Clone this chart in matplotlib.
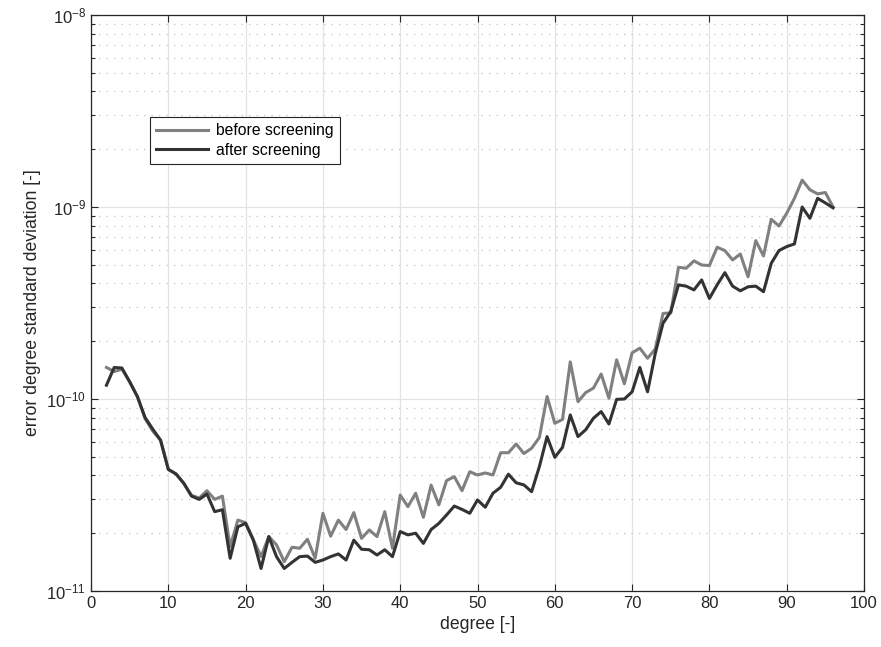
import matplotlib
matplotlib.use("Agg")
import matplotlib.pyplot as plt
from matplotlib.ticker import LogLocator, MultipleLocator, NullFormatter

plt.rcParams["font.family"] = ["Liberation Sans", "DejaVu Sans"]
plt.rcParams["mathtext.fontset"] = "custom"
plt.rcParams["mathtext.rm"] = "Liberation Sans"
plt.rcParams["mathtext.it"] = "Liberation Sans"

degrees = list(range(2, 97))

# error degree standard deviation before screening
before_screening = [
    1.46e-10, 1.39e-10, 1.43e-10, 1.23e-10, 1.03e-10, 7.9e-11, 6.8e-11, 6.1e-11, 4.3e-11,
    4.07e-11, 3.64e-11, 3.15e-11, 3.05e-11, 3.33e-11, 3.0e-11, 3.12e-11, 1.7e-11, 2.34e-11,
    2.27e-11, 1.85e-11, 1.51e-11, 1.92e-11, 1.74e-11, 1.42e-11, 1.69e-11, 1.67e-11, 1.86e-11,
    1.48e-11, 2.54e-11, 1.93e-11, 2.34e-11, 2.09e-11, 2.56e-11, 1.88e-11, 2.08e-11, 1.92e-11,
    2.59e-11, 1.67e-11, 3.16e-11, 2.75e-11, 3.23e-11, 2.42e-11, 3.56e-11, 2.81e-11, 3.76e-11,
    3.94e-11, 3.33e-11, 4.18e-11, 4.02e-11, 4.12e-11, 4.02e-11, 5.25e-11, 5.25e-11, 5.83e-11,
    5.2e-11, 5.54e-11, 6.3e-11, 1.03e-10, 7.47e-11, 7.83e-11, 1.56e-10, 9.68e-11, 1.08e-10,
    1.14e-10, 1.35e-10, 1.01e-10, 1.6e-10, 1.2e-10, 1.74e-10, 1.84e-10, 1.63e-10, 1.82e-10,
    2.79e-10, 2.81e-10, 4.85e-10, 4.8e-10, 5.24e-10, 4.99e-10, 4.95e-10, 6.17e-10, 5.93e-10,
    5.3e-10, 5.69e-10, 4.33e-10, 6.68e-10, 5.56e-10, 8.63e-10, 7.96e-10, 9.27e-10, 1.11e-9,
    1.38e-9, 1.23e-9, 1.17e-9, 1.19e-9, 1.0e-9,
]

# error degree standard deviation after screening
after_screening = [
    1.18e-10, 1.46e-10, 1.45e-10, 1.23e-10, 1.03e-10, 8.0e-11, 6.96e-11, 6.1e-11, 4.3e-11,
    4.07e-11, 3.64e-11, 3.12e-11, 3.0e-11, 3.2e-11, 2.59e-11, 2.65e-11, 1.48e-11, 2.16e-11,
    2.25e-11, 1.84e-11, 1.31e-11, 1.92e-11, 1.51e-11, 1.31e-11, 1.41e-11, 1.51e-11, 1.52e-11,
    1.41e-11, 1.45e-11, 1.51e-11, 1.56e-11, 1.45e-11, 1.84e-11, 1.65e-11, 1.64e-11, 1.54e-11,
    1.64e-11, 1.51e-11, 2.04e-11, 1.96e-11, 2.0e-11, 1.77e-11, 2.09e-11, 2.25e-11, 2.49e-11,
    2.77e-11, 2.66e-11, 2.54e-11, 2.98e-11, 2.73e-11, 3.23e-11, 3.47e-11, 4.06e-11, 3.66e-11,
    3.57e-11, 3.29e-11, 4.44e-11, 6.37e-11, 4.97e-11, 5.6e-11, 8.26e-11, 6.37e-11, 6.92e-11,
    7.94e-11, 8.6e-11, 7.41e-11, 9.96e-11, 1.0e-10, 1.09e-10, 1.46e-10, 1.09e-10, 1.73e-10,
    2.48e-10, 2.85e-10, 3.93e-10, 3.87e-10, 3.7e-10, 4.17e-10, 3.34e-10, 3.93e-10, 4.55e-10,
    3.87e-10, 3.66e-10, 3.84e-10, 3.87e-10, 3.62e-10, 5.09e-10, 5.93e-10, 6.22e-10, 6.42e-10,
    1.0e-9, 8.73e-10, 1.11e-9, 1.05e-9, 9.9e-10,
]

fig = plt.figure(figsize=(8.81, 6.47), dpi=100)
ax = fig.add_axes([91 / 881, 56 / 647, 773 / 881, 576 / 647])

ax.plot(degrees, before_screening, color="#808080", lw=2.2, label="before screening")
ax.plot(degrees, after_screening, color="#333333", lw=2.2, label="after screening")

ax.set_yscale("log")
ax.set_xlim(0, 100)
ax.set_ylim(1e-11, 1e-8)
ax.xaxis.set_major_locator(MultipleLocator(10))
ax.yaxis.set_major_locator(LogLocator(base=10, numticks=10))
ax.yaxis.set_minor_locator(LogLocator(base=10, subs=range(2, 10), numticks=10))
ax.yaxis.set_minor_formatter(NullFormatter())

ax.grid(True, which="major", color="#e3e3e3", lw=0.9, ls="-")
ax.grid(True, which="minor", axis="y", color="#c4c4c4", lw=0.9, ls=(0, (1, 5)))
ax.set_axisbelow(True)

ax.tick_params(which="both", direction="in", top=True, right=True, colors="#262626",
               labelsize=12, labelcolor="#262626")
ax.tick_params(which="major", length=5, width=0.8)
ax.tick_params(which="minor", length=3, width=0.8)
for s in ax.spines.values():
    s.set_color("#262626")
    s.set_linewidth(0.9)

ax.set_xlabel("degree [-]", fontsize=12.7, color="#262626")
ax.set_ylabel("error degree standard deviation [-]", fontsize=12.7, color="#262626")

leg = ax.legend(loc="upper left", bbox_to_anchor=(150 / 881, 1 - 117 / 647),
                bbox_transform=fig.transFigure, borderaxespad=0, fancybox=False,
                framealpha=1, edgecolor="#262626", fontsize=11.3, handlelength=3.3,
                handletextpad=0.5, borderpad=0.4, labelspacing=0.3)
leg.get_frame().set_linewidth(0.8)

fig.savefig("out.png", dpi=100)
